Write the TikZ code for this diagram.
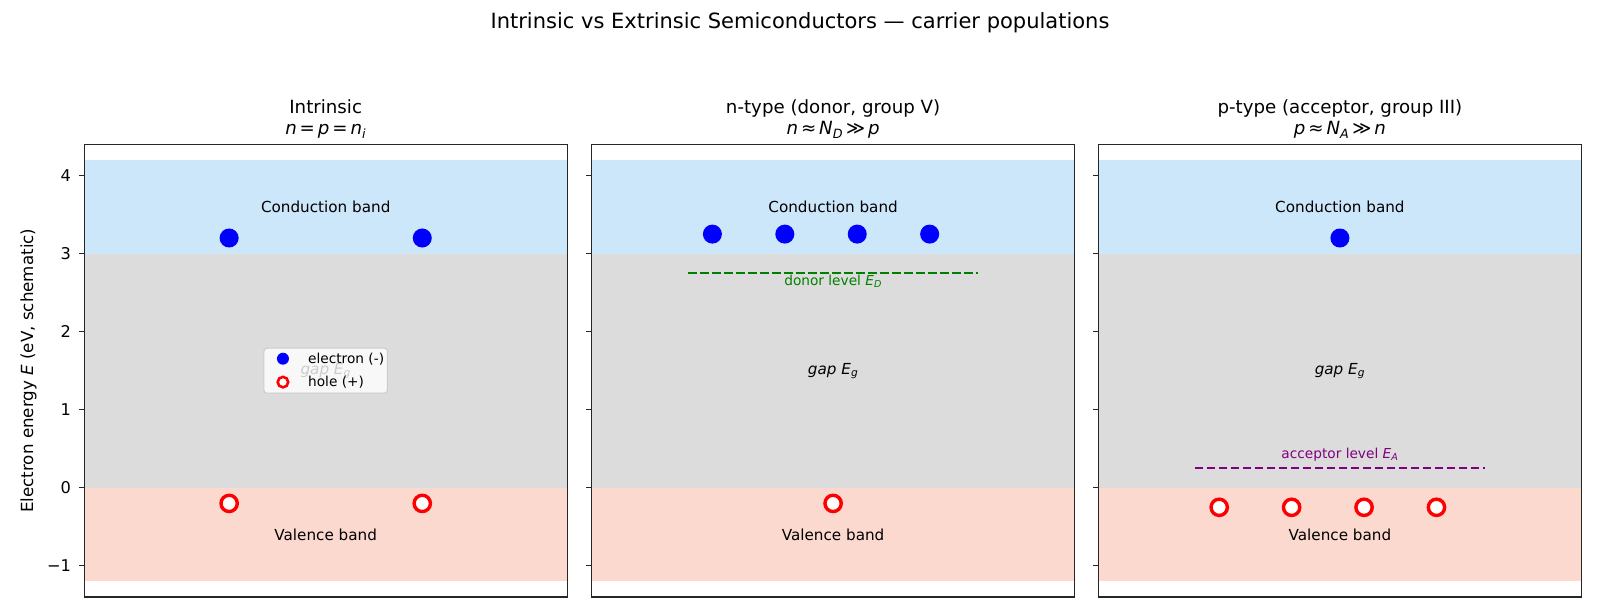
\documentclass[tikz,border=0pt]{standalone}
\usepackage{fontspec}
\setmainfont{DejaVu Sans}
\usetikzlibrary{positioning}
\definecolor{scBlue}{HTML}{0000FF}
\definecolor{scRed}{HTML}{FF0000}
\definecolor{scGreen}{HTML}{008000}
\definecolor{scPurple}{HTML}{800080}
\definecolor{scCond}{HTML}{CCE6FA}
\definecolor{scGap}{HTML}{DCDCDC}
\definecolor{scVal}{HTML}{FCD9CF}
\definecolor{scFrame}{HTML}{262626}
\definecolor{scLegEdge}{HTML}{CCCCCC}
\newcommand{\fsz}[1]{\fontsize{#1}{#1}\selectfont}
\newcommand{\sym}[2]{\textit{#1}\textsubscript{\textit{#2}}}
\newcommand{\rel}[1]{\hspace{0.16em}#1\hspace{0.16em}}
\tikzset{
  axbox/.style={draw=scFrame,line width=1.2pt},
  ytk/.style={draw=scFrame,line width=1.2pt},
  ticklbl/.style={font=\fsz{16.2},anchor=east,inner sep=0pt,xshift=-13.2pt},
  elec/.style={circle,fill=scBlue,draw=scBlue,line width=1.5pt,minimum size=17.5pt,inner sep=0pt},
  hole/.style={circle,fill=white,draw=scRed,line width=3.4pt,minimum size=16.3pt,inner sep=0pt},
  legdot/.style={circle,fill=scBlue,minimum size=12pt,inner sep=0pt},
  legring/.style={circle,fill=white,draw=scRed,line width=2.6pt,minimum size=10.5pt,inner sep=0pt},
  bandlbl/.style={font=\fsz{15.2},inner sep=0pt},
  gaplbl/.style={font=\fsz{15.2}\itshape,inner sep=0pt},
  level/.style={dash pattern=on 8.4pt off 3.6pt,line width=2.4pt},
  lvllbl/.style={font=\fsz{13.7},inner sep=0pt},
  ptitle/.style={font=\fsz{18.2},anchor=base,inner sep=0pt},
  legbox/.style={draw=scLegEdge,fill=white,fill opacity=0.8,rounded corners=3pt,line width=1pt,
                 minimum width=123.5pt,minimum height=45pt,inner sep=0pt},
  legtext/.style={font=\fsz{13.7},anchor=west,inner sep=0pt},
}
\begin{document}
\begin{tikzpicture}[x=1pt,y=1pt]
  \useasboundingbox (0,0) rectangle (1600,615);
  \node[font=\fsz{21},anchor=base,inner sep=0pt] (sup) at (800,586.7)
    {Intrinsic vs Extrinsic Semiconductors — carrier populations};
  \node[font=\fsz{16.7},rotate=90,inner sep=0pt] (ylab) at (28.5,244.3)
    {Electron energy \textit{E} (eV, schematic)};

  % intrinsic
  \begin{scope}[shift={(84.3,127.2)},x=482.8pt,y=78.06pt]
    \fill[scCond] (0,3) rectangle (1,4.2);
    \fill[scGap] (0,0) rectangle (1,3);
    \fill[scVal] (0,-1.2) rectangle (1,0);
    \draw[axbox] (0,-1.4) rectangle (1,4.4);
    \foreach \e/\lab in {-1/−1,0/0,1/1,2/2,3/3,4/4}{
      \draw[ytk] (0,\e) -- ++(-5.7pt,0pt);
      \node[ticklbl] (tk\e) at (0,\e) {\lab};
    }
    \node[ptitle] (ti1) at (0.5,4.80) {Intrinsic};
    \node[ptitle] (tj1) at (0.5,4.52) {\textit{n}\rel{=}\textit{p}\rel{=}\sym{n}{i}};
    \node[bandlbl] (cb1) at (0.5,3.6) {Conduction band};
    \node[bandlbl] (vb1) at (0.5,-0.6) {Valence band};
    \node[gaplbl] (gp1) at (0.5,1.5) {gap \sym{E}{g}};
    \node[elec] (e1a) at (0.3,3.2) {};
    \node[elec] (e1b) at (0.7,3.2) {};
    \node[hole] (h1a) at (0.3,-0.2) {};
    \node[hole] (h1b) at (0.7,-0.2) {};
    % legend
    \node[legbox] (leg) at (0.5,1.5) {};
    \node[legdot] (lge) at ([xshift=19.5pt,yshift=-11pt]leg.north west) {};
    \node[legring] (lgh) at ([xshift=19.5pt,yshift=11.6pt]leg.south west) {};
    \node[legtext,right=25pt of lge.center] (lget) {electron (-)};
    \node[legtext,right=25pt of lgh.center] (lght) {hole (+)};
  \end{scope}

  % n-type
  \begin{scope}[shift={(591.7,127.2)},x=482.8pt,y=78.06pt]
    \fill[scCond] (0,3) rectangle (1,4.2);
    \fill[scGap] (0,0) rectangle (1,3);
    \fill[scVal] (0,-1.2) rectangle (1,0);
    \draw[axbox] (0,-1.4) rectangle (1,4.4);
    \foreach \e in {-1,0,1,2,3,4}{
      \draw[ytk] (0,\e) -- ++(-5.7pt,0pt);
    }
    \node[ptitle] (ti2) at (0.5,4.80) {n-type (donor, group V)};
    \node[ptitle] (tj2) at (0.5,4.52) {\textit{n}\rel{≈}\sym{N}{D}\rel{≫}\textit{p}};
    \node[bandlbl] (cb2) at (0.5,3.6) {Conduction band};
    \node[bandlbl] (vb2) at (0.5,-0.6) {Valence band};
    \node[gaplbl] (gp2) at (0.5,1.5) {gap \sym{E}{g}};
    \coordinate (dl0) at (0.2,2.75);
    \coordinate (dl1) at (0.8,2.75);
    \draw[level,scGreen] (dl0) -- (dl1);
    \node[lvllbl,text=scGreen] (dlt) at (0.5,2.65) {donor level \sym{E}{D}};
    \node[elec] (e2a) at (0.25,3.25) {};
    \node[elec] (e2b) at (0.40,3.25) {};
    \node[elec] (e2c) at (0.55,3.25) {};
    \node[elec] (e2d) at (0.70,3.25) {};
    \node[hole] (h2a) at (0.5,-0.2) {};
  \end{scope}

  % p-type
  \begin{scope}[shift={(1098.5,127.2)},x=482.8pt,y=78.06pt]
    \fill[scCond] (0,3) rectangle (1,4.2);
    \fill[scGap] (0,0) rectangle (1,3);
    \fill[scVal] (0,-1.2) rectangle (1,0);
    \draw[axbox] (0,-1.4) rectangle (1,4.4);
    \foreach \e in {-1,0,1,2,3,4}{
      \draw[ytk] (0,\e) -- ++(-5.7pt,0pt);
    }
    \node[ptitle] (ti3) at (0.5,4.80) {p-type (acceptor, group III)};
    \node[ptitle] (tj3) at (0.5,4.52) {\textit{p}\rel{≈}\sym{N}{A}\rel{≫}\textit{n}};
    \node[bandlbl] (cb3) at (0.5,3.6) {Conduction band};
    \node[bandlbl] (vb3) at (0.5,-0.6) {Valence band};
    \node[gaplbl] (gp3) at (0.5,1.5) {gap \sym{E}{g}};
    \coordinate (al0) at (0.2,0.25);
    \coordinate (al1) at (0.8,0.25);
    \draw[level,scPurple] (al0) -- (al1);
    \node[lvllbl,text=scPurple] (alt) at (0.5,0.42) {acceptor level \sym{E}{A}};
    \node[elec] (e3a) at (0.5,3.2) {};
    \node[hole] (h3a) at (0.25,-0.25) {};
    \node[hole] (h3b) at (0.40,-0.25) {};
    \node[hole] (h3c) at (0.55,-0.25) {};
    \node[hole] (h3d) at (0.70,-0.25) {};
  \end{scope}
\end{tikzpicture}
\end{document}
